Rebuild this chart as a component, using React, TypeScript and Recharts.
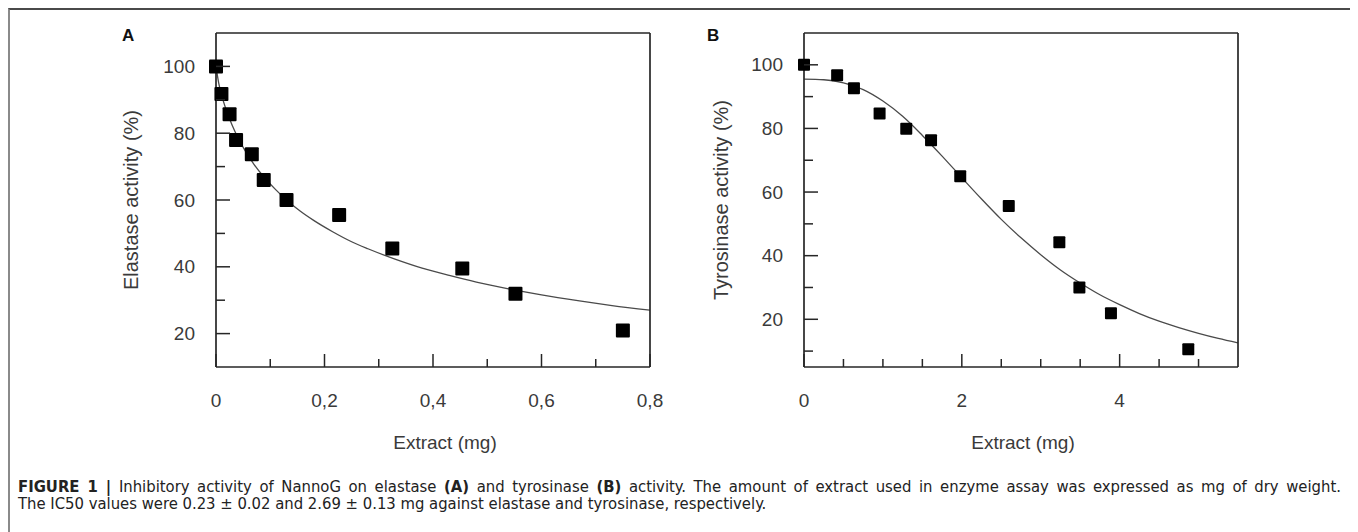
import { ComposedChart, Scatter, Line, XAxis, YAxis } from "recharts";

// Panel A: elastase
const A_DOSE = [0, 0.01, 0.025, 0.037, 0.066, 0.088, 0.13, 0.227, 0.325, 0.454, 0.552, 0.75];
const A_ACTIVITY = [100, 91.7, 85.7, 78, 73.7, 66, 60, 55.5, 45.5, 39.5, 31.9, 20.9];
const A_FIT_X = [0, 0.005, 0.01, 0.02, 0.03, 0.04, 0.055, 0.07, 0.09, 0.11, 0.13, 0.155, 0.18, 0.215, 0.25, 0.28, 0.33, 0.38, 0.43, 0.48, 0.54, 0.6, 0.67, 0.73, 0.8];
const A_FIT_Y = [100, 95, 91.6, 86.4, 82.3, 78.8, 74.4, 70.7, 66.6, 63.1, 60, 56.7, 53.9, 50.5, 47.5, 45.4, 42.3, 39.6, 37.4, 35.4, 33.4, 31.6, 29.8, 28.4, 27];
const A_X_TICKS = [0, 0.1, 0.2, 0.3, 0.4, 0.5, 0.6, 0.7, 0.8];
const A_X_LABELS = [0, 0.2, 0.4, 0.6, 0.8];
const A_Y_TICKS = [20, 30, 40, 50, 60, 70, 80, 90, 100];
const A_Y_LABELS = [20, 40, 60, 80, 100];

// Panel B: tyrosinase
const B_DOSE = [0, 0.42, 0.633, 0.958, 1.296, 1.61, 1.98, 2.595, 3.236, 3.49, 3.89, 4.87];
const B_ACTIVITY = [100, 96.7, 92.6, 84.7, 79.9, 76.3, 65, 55.6, 44.2, 30, 21.9, 10.6];
const B_FIT_X = [0, 0.25, 0.5, 0.75, 1, 1.25, 1.5, 1.75, 2, 2.25, 2.5, 2.75, 3, 3.25, 3.5, 3.75, 4, 4.25, 4.5, 4.75, 5, 5.25, 5.5];
const B_FIT_Y = [95.5, 95.3, 94.3, 92.2, 88.6, 83.8, 77.8, 71.3, 64.5, 57.8, 51.4, 45.6, 40.3, 35.5, 31.4, 27.7, 24.6, 21.8, 19.4, 17.4, 15.6, 14, 12.6];
const B_X_TICKS = [0, 0.5, 1, 1.5, 2, 2.5, 3, 3.5, 4, 4.5, 5];
const B_X_LABELS = [0, 2, 4];
const B_Y_TICKS = [10, 20, 30, 40, 50, 60, 70, 80, 90, 100];
const B_Y_LABELS = [20, 40, 60, 80, 100];

const INK = "#262626";
const TEXT = "#3a3a3a";
const FONT = "'Liberation Sans', Arial, sans-serif";
const CAPTION_FONT = "'DejaVu Sans Condensed', 'Liberation Sans', sans-serif";

const isMajor = (v: number, majors: number[]) => majors.some((m) => Math.abs(m - v) < 1e-9);

const zip = (xs: number[], ys: number[]) => xs.map((x, i) => ({ x, y: ys[i] }));

const tickText = { fontFamily: FONT, fontSize: 19, fill: TEXT };
const yTitleStyle = { fontFamily: FONT, fontSize: 20, fill: TEXT };
const xTitleStyle = { fontFamily: FONT, fontSize: 19, fill: TEXT };

const leftTick = (majors: number[], fmt: (v: number) => string) => (p: any) => {
  const v = p.payload.value;
  const major = isMajor(v, majors);
  return (
    <g>
      <line x1={p.x} y1={p.y} x2={p.x + (major ? 14 : 9)} y2={p.y} stroke={INK} strokeWidth={1.5} />
      {major && (
        <text x={p.x - 21} y={p.y} textAnchor="end" dominantBaseline="central" {...tickText}>
          {fmt(v)}
        </text>
      )}
    </g>
  );
};

const rightTick = (majors: number[]) => (p: any) => {
  const major = isMajor(p.payload.value, majors);
  return <line x1={p.x} y1={p.y} x2={p.x - (major ? 10 : 8)} y2={p.y} stroke={INK} strokeWidth={1.5} />;
};

const bottomTick = (majors: number[], fmt: (v: number) => string) => (p: any) => {
  const v = p.payload.value;
  const major = isMajor(v, majors);
  return (
    <g>
      <line x1={p.x} y1={p.y} x2={p.x} y2={p.y - (major ? 13 : 8)} stroke={INK} strokeWidth={1.5} />
      {major && (
        <text x={p.x} y={p.y + 33} textAnchor="middle" dominantBaseline="central" {...tickText}>
          {fmt(v)}
        </text>
      )}
    </g>
  );
};

const topTick = (majors: number[]) => (p: any) => {
  const major = isMajor(p.payload.value, majors);
  return <line x1={p.x} y1={p.y} x2={p.x} y2={p.y + (major ? 13 : 8)} stroke={INK} strokeWidth={1.5} />;
};

const yTitle = (text: string) => (p: any) => {
  const vb = p.viewBox;
  const cx = 31;
  const cy = vb.y + vb.height / 2;
  return (
    <text x={cx} y={cy} transform={`rotate(-90, ${cx}, ${cy})`} textAnchor="middle" dominantBaseline="central" {...yTitleStyle}>
      {text}
    </text>
  );
};

const xTitle = (shift: number) => (p: any) => {
  const vb = p.viewBox;
  return (
    <text x={vb.x + vb.width / 2 + shift} y={422} textAnchor="middle" dominantBaseline="central" {...xTitleStyle}>
      Extract (mg)
    </text>
  );
};

const square = (size: number) => (p: any) => (
  <rect x={p.cx - size / 2} y={p.cy - size / 2} width={size} height={size} rx={1} fill="#000" />
);

interface PanelProps {
  points: { x: number; y: number }[];
  fit: { x: number; y: number }[];
  xDomain: [number, number];
  yDomain: [number, number];
  xTicks: number[];
  xLabels: number[];
  yTicks: number[];
  yLabels: number[];
  xFmt: (v: number) => string;
  yTitleText: string;
  xTitleShift: number;
  marginLeft: number;
  marginRight: number;
  markerSize: number;
}

function Panel(props: PanelProps) {
  const axisLine = { stroke: INK, strokeWidth: 1.7 };
  return (
    <ComposedChart
      width={600}
      height={440}
      margin={{ top: 8, right: props.marginRight, bottom: 10, left: props.marginLeft }}
    >
      <XAxis
        xAxisId="top"
        orientation="top"
        type="number"
        dataKey="x"
        domain={props.xDomain}
        ticks={props.xTicks}
        interval={0}
        height={5}
        tickSize={0}
        tickMargin={0}
        tickLine={false}
        axisLine={axisLine}
        tick={topTick(props.xLabels)}
      />
      <XAxis
        xAxisId="bottom"
        type="number"
        dataKey="x"
        domain={props.xDomain}
        ticks={props.xTicks}
        interval={0}
        height={83}
        tickSize={0}
        tickMargin={0}
        tickLine={false}
        axisLine={axisLine}
        tick={bottomTick(props.xLabels, props.xFmt)}
        label={xTitle(props.xTitleShift)}
      />
      <YAxis
        yAxisId="left"
        type="number"
        domain={props.yDomain}
        ticks={props.yTicks}
        interval={0}
        width={96}
        tickSize={0}
        tickMargin={0}
        tickLine={false}
        axisLine={axisLine}
        tick={leftTick(props.yLabels, (v) => String(v))}
        label={yTitle(props.yTitleText)}
      />
      <YAxis
        yAxisId="right"
        orientation="right"
        type="number"
        domain={props.yDomain}
        ticks={props.yTicks}
        interval={0}
        width={20}
        tickSize={0}
        tickMargin={0}
        tickLine={false}
        axisLine={axisLine}
        tick={rightTick(props.yLabels)}
      />
      <Line
        xAxisId="bottom"
        yAxisId="left"
        data={props.fit}
        dataKey="y"
        type="monotone"
        stroke="#4a4a4a"
        strokeWidth={1.3}
        dot={false}
        isAnimationActive={false}
      />
      <Scatter
        xAxisId="bottom"
        yAxisId="left"
        data={props.points}
        dataKey="y"
        shape={square(props.markerSize)}
        isAnimationActive={false}
      />
    </ComposedChart>
  );
}

export default function App() {
  return (
    <div
      style={{
        position: "relative",
        width: 1347,
        height: 524,
        background: "#fff",
        fontFamily: FONT,
        borderTop: "2px solid #4a4a4a",
        borderLeft: "2px solid #8a8a8a",
        borderRight: "2px solid #8a8a8a",
        boxSizing: "border-box",
      }}
    >
      <div style={{ position: "absolute", left: 112, top: 16, fontWeight: "bold", fontSize: 17, color: "#111" }}>A</div>
      <div style={{ position: "absolute", left: 697, top: 16, fontWeight: "bold", fontSize: 17, color: "#111" }}>B</div>

      <div style={{ position: "absolute", left: 90, top: 10 }}>
        <Panel
          points={zip(A_DOSE, A_ACTIVITY)}
          fit={zip(A_FIT_X, A_FIT_Y)}
          xDomain={[0, 0.8]}
          yDomain={[10, 110]}
          xTicks={A_X_TICKS}
          xLabels={A_X_LABELS}
          yTicks={A_Y_TICKS}
          yLabels={A_Y_LABELS}
          xFmt={(v) => String(v).replace(".", ",")}
          yTitleText="Elastase activity (%)"
          xTitleShift={12}
          marginLeft={20}
          marginRight={30}
          markerSize={14}
        />
      </div>
      <div style={{ position: "absolute", left: 680, top: 10 }}>
        <Panel
          points={zip(B_DOSE, B_ACTIVITY)}
          fit={zip(B_FIT_X, B_FIT_Y)}
          xDomain={[0, 5.5]}
          yDomain={[5, 110]}
          xTicks={B_X_TICKS}
          xLabels={B_X_LABELS}
          yTicks={B_Y_TICKS}
          yLabels={B_Y_LABELS}
          xFmt={(v) => String(v)}
          yTitleText="Tyrosinase activity (%)"
          xTitleShift={2}
          marginLeft={18}
          marginRight={32}
          markerSize={12}
        />
      </div>

      <div
        style={{
          position: "absolute",
          left: 8,
          top: 469,
          width: 1323,
          fontFamily: CAPTION_FONT,
          fontSize: 16.5,
          lineHeight: "16.5px",
          color: "#222",
        }}
      >
        <div style={{ textAlign: "justify", textAlignLast: "justify" }}>
          <b>FIGURE 1 |</b> Inhibitory activity of NannoG on elastase <b>(A)</b> and tyrosinase <b>(B)</b> activity. The
          amount of extract used in enzyme assay was expressed as mg of dry weight.
        </div>
        <div>The IC50 values were 0.23 ± 0.02 and 2.69 ± 0.13 mg against elastase and tyrosinase, respectively.</div>
      </div>
    </div>
  );
}
